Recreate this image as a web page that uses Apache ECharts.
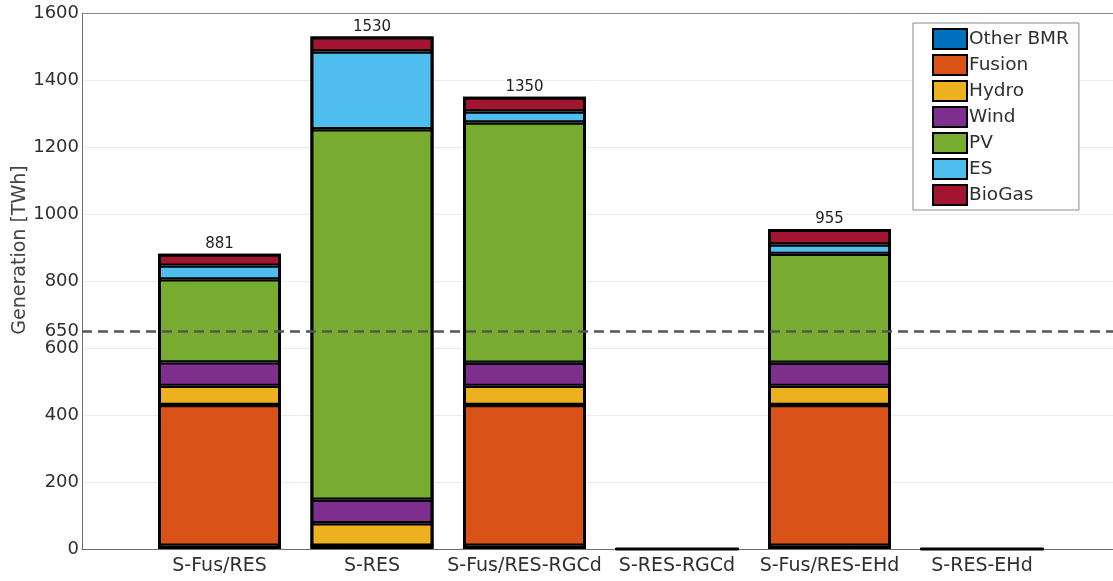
<!DOCTYPE html>
<html>
<head>
<meta charset="utf-8">
<title>Generation by scenario</title>
<script src="https://cdn.jsdelivr.net/npm/echarts@6/dist/echarts.min.js"></script>
<style>
  html, body { margin: 0; padding: 0; background: #fff; }
  #chart { width: 1113px; height: 581px; }
</style>
</head>
<body>
<div id="chart"></div>
<script>
// Scenarios on the x axis
const scenarios = ['S-Fus/RES', 'S-RES', 'S-Fus/RES-RGCd', 'S-RES-RGCd', 'S-Fus/RES-EHd', 'S-RES-EHd'];

// Annual generation per technology [TWh]
const otherBMR = [10, 10, 10, 0, 10, 0];
const fusion   = [420, 0, 420, 0, 420, 0];
const hydro    = [57, 67, 57, 0, 57, 0];
const wind     = [70, 70, 69, 0, 69, 0];
const pv       = [248, 1106, 717, 0, 325, 0];
const es       = [41, 232, 33, 0, 28, 0];
const bioGas   = [35, 45, 44, 0, 46, 0];

// Demand reference line [TWh]
const demandLine = 650;

// Y axis ticks
const yMin = 0, yMax = 1600, yStep = 200;

const techs = [
  { name: 'Other BMR', data: otherBMR, color: '#0072BD' },
  { name: 'Fusion',    data: fusion,   color: '#D95319' },
  { name: 'Hydro',     data: hydro,    color: '#EDB120' },
  { name: 'Wind',      data: wind,     color: '#7E2F8E' },
  { name: 'PV',        data: pv,       color: '#77AC30' },
  { name: 'ES',        data: es,       color: '#4DBEEE' },
  { name: 'BioGas',    data: bioGas,   color: '#A2142F' }
];

// Total generation per scenario (sum of the stack)
const totals = scenarios.map((_, i) => techs.reduce((s, t) => s + t.data[i], 0));

const FONT = '"DejaVu Sans", Verdana, sans-serif';
const TEXT = '#2f2f2f';

const plotTop = 13, plotBottom = 32;
const BAR_W = 123;

// Stacked technology segments
const barSeries = techs.map(t => ({
  name: t.name,
  type: 'bar',
  stack: 'gen',
  xAxisIndex: 2,
  yAxisIndex: 1,
  barWidth: BAR_W,
  barGap: '-100%',
  data: t.data,
  z: 3,
  itemStyle: { color: t.color, borderColor: '#000', borderWidth: 2.2 }
}));

// Outline around each whole stack, carrying the total label
const outlineSeries = {
  name: 'Total',
  type: 'bar',
  xAxisIndex: 2,
  yAxisIndex: 1,
  barWidth: BAR_W,
  barGap: '-100%',
  data: totals,
  z: 4,
  silent: true,
  itemStyle: { color: 'rgba(0,0,0,0)', borderColor: '#000', borderWidth: 3 },
  label: {
    show: true,
    position: 'top',
    distance: 2,
    fontFamily: FONT,
    fontSize: 15,
    color: '#1e1e1e',
    formatter: p => p.value > 0 ? String(p.value) : ''
  }
};

const option = {
  animation: false,
  backgroundColor: '#fff',
  textStyle: { fontFamily: FONT },
  grid: [
    { left: 82, right: 0, top: plotTop, bottom: plotBottom },
    { left: 143.25, width: 915, top: plotTop, bottom: plotBottom }
  ],
  xAxis: [
    { // frame: bottom axis line
      gridIndex: 0, type: 'value', min: 0, max: 1, position: 'bottom',
      axisLine: { show: true, lineStyle: { color: '#6e6e6e', width: 1 } },
      axisTick: { show: false }, axisLabel: { show: false }, splitLine: { show: false }
    },
    { // frame: top line
      gridIndex: 0, type: 'value', min: 0, max: 1, position: 'top',
      axisLine: { show: true, lineStyle: { color: '#8a8a8a', width: 1 } },
      axisTick: { show: false }, axisLabel: { show: false }, splitLine: { show: false }
    },
    { // scenario categories
      gridIndex: 1, type: 'category', data: scenarios,
      axisLine: { show: false }, axisTick: { show: false },
      axisLabel: { fontFamily: FONT, fontSize: 19, color: TEXT, margin: 8, interval: 0 }
    }
  ],
  yAxis: [
    {
      gridIndex: 0, type: 'value', min: yMin, max: yMax, interval: yStep,
      axisLine: { show: true, lineStyle: { color: '#6e6e6e', width: 1 } },
      axisTick: { show: false },
      axisLabel: {
        fontFamily: FONT, fontSize: 18, color: TEXT, margin: 3,
        formatter: v => String(v)
      },
      splitLine: { show: true, lineStyle: { color: '#ebebeb', width: 1 } }
    },
    {
      gridIndex: 1, type: 'value', min: yMin, max: yMax, interval: yStep,
      show: false, splitLine: { show: false }
    }
  ],
  legend: {
    data: techs.map(t => t.name),
    orient: 'vertical',
    left: 913,
    top: 23,
    padding: [5, 10, 4, 19],
    icon: 'rect',
    itemWidth: 34,
    itemHeight: 20,
    itemGap: 4,
    backgroundColor: '#fff',
    borderColor: '#8a8a8a',
    borderWidth: 1,
    itemStyle: { borderColor: '#000', borderWidth: 2 },
    textStyle: {
      fontFamily: FONT, fontSize: 18.5, color: TEXT,
      lineHeight: 20, padding: [0, 0, 0, -3]
    }
  },
  graphic: [
    {
      type: 'text',
      x: 20, y: 250,
      rotation: Math.PI / 2,
      style: {
        text: 'Generation [TWh]',
        font: '19px ' + FONT,
        fill: '#444',
        align: 'center',
        verticalAlign: 'middle'
      }
    }
  ],
  series: barSeries.concat([
    outlineSeries,
    {
      name: 'demand',
      type: 'line',
      xAxisIndex: 0,
      yAxisIndex: 0,
      data: [],
      z: 10,
      silent: true,
      markLine: {
        silent: true,
        symbol: 'none',
        z: 10,
        lineStyle: { color: '#555', width: 2.5, type: [10, 6] },
        label: {
          show: true, position: 'start', distance: 3,
          fontFamily: FONT, fontSize: 18, color: TEXT,
          formatter: String(demandLine)
        },
        data: [{ yAxis: demandLine }]
      }
    }
  ])
};

const chart = echarts.init(document.getElementById('chart'), null, { renderer: 'canvas' });
chart.setOption(option);
</script>
</body>
</html>
